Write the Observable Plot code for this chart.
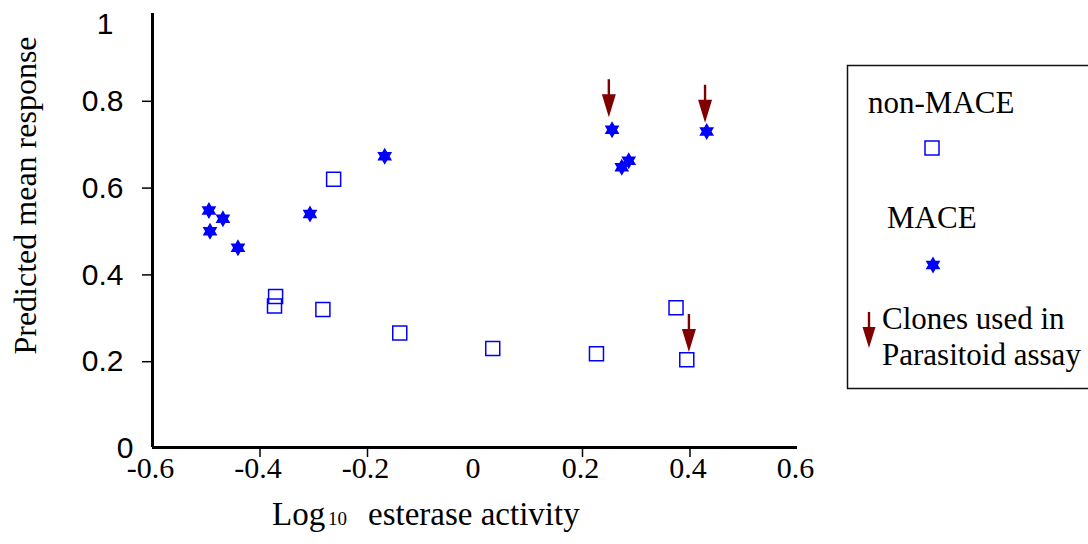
<!DOCTYPE html>
<html><head><meta charset="utf-8">
<script src="https://cdn.jsdelivr.net/npm/d3@7"></script>
<script src="https://cdn.jsdelivr.net/npm/@observablehq/plot@0.6"></script>
<style>body{margin:0;background:#fff}</style>
</head><body><div id="chart"></div>
<script>
// MACE clones (stars)
const maceX = [-0.495, -0.493, -0.469, -0.441, -0.307, -0.168, 0.255, 0.273, 0.286, 0.431];
const maceY = [0.546, 0.498, 0.527, 0.460, 0.538, 0.671, 0.732, 0.646, 0.661, 0.728];
// non-MACE clones (squares)
const nonX = [-0.371, -0.373, -0.283, -0.263, -0.140, 0.033, 0.226, 0.374, 0.394];
const nonY = [0.348, 0.326, 0.318, 0.618, 0.264, 0.228, 0.216, 0.322, 0.202];
// arrow tips: clones used in parasitoid assay
const arrowX = [0.249, 0.428, 0.398];
const arrowY = [0.761, 0.748, 0.220];
// ticks
const xTicks = [-0.6, -0.4, -0.2, 0, 0.2, 0.4, 0.6];
const xTickMarks = [-0.4, -0.2, 0.2, 0.4];
const yTicks = [0.2, 0.4, 0.6, 0.8];
const legendLabels = ["non-MACE", "MACE", "Clones used in", "Parasitoid assay"];
const yTitle = "Predicted mean response";
const xTitle = ["Log", "10", "esterase activity"];

const BLUE = "#0000ff", RED = "#800000";
const SERIF = "'Liberation Serif', 'Times New Roman', Times, serif";
const SANS = "'Liberation Sans', Arial, sans-serif";

const mace = maceX.map((x, i) => ({x, y: maceY[i]}));
const non = nonX.map((x, i) => ({x, y: nonY[i]}));
const arrows = arrowX.map((x, i) => ({x, y: arrowY[i]}));

const hexagram = {
  draw(ctx, size) {
    const R = Math.sqrt(size / Math.PI), r = R / Math.sqrt(3);
    for (let k = 0; k < 12; k++) {
      const a = -Math.PI / 2 + k * Math.PI / 6, rad = k % 2 ? r : R;
      const px = rad * Math.cos(a), py = rad * Math.sin(a);
      if (k) ctx.lineTo(px, py); else ctx.moveTo(px, py);
    }
    ctx.closePath();
  }
};
function arrowPath(ctx, l, h, w, s) {
  ctx.moveTo(-s, 0); ctx.lineTo(-s, -l + h); ctx.lineTo(-w, -l + h);
  ctx.lineTo(0, -l); ctx.lineTo(w, -l + h); ctx.lineTo(s, -l + h);
  ctx.lineTo(s, 0); ctx.closePath();
}
const arrowShape = { draw(ctx, l) { arrowPath(ctx, l, 23, 7, 1.2); } };

const chart = Plot.plot({
  width: 1088, height: 544,
  marginLeft: 152, marginRight: 291, marginTop: 13, marginBottom: 97,
  x: {domain: [-0.6, 0.6]},
  y: {domain: [0, 1]},
  style: {background: "white", color: "black"},
  marks: [
    Plot.axisY(yTicks, {tickSize: 10, tickPadding: 19, tickFormat: String, fontSize: 30, fontFamily: SANS, label: null, strokeWidth: 1.5, dy: 1}),
    Plot.axisY([1], {tickSize: 0, tickPadding: 39, tickFormat: String, fontSize: 30, fontFamily: SANS, label: null, dy: 11}),
    Plot.axisY([0], {tickSize: 0, tickPadding: 19, tickFormat: String, fontSize: 30, fontFamily: SANS, label: null, dy: 1}),
    Plot.axisX(xTickMarks, {tickSize: 10, tickFormat: () => "", label: null, strokeWidth: 1.5}),
    Plot.axisX(xTicks, {tickSize: 0, tickPadding: 9, tickFormat: String, fontSize: 30, fontFamily: SERIF, label: null, dx: -2}),
    Plot.ruleX([-0.6], {strokeWidth: 3}),
    Plot.ruleY([0], {strokeWidth: 3}),
    Plot.dot(non, {x: "x", y: "y", symbol: "square", r: 7.9, stroke: BLUE, fill: "none", strokeWidth: 1.5}),
    Plot.dot(mace, {x: "x", y: "y", symbol: hexagram, r: 8.5, fill: BLUE, stroke: "none"}),
    Plot.vector(arrows, {x: "x", y: "y", length: 38, rotate: 180, anchor: "end", shape: arrowShape, fill: RED, stroke: "none"}),
    Plot.text([yTitle], {frameAnchor: "left", textAnchor: "middle", rotate: -90, dx: -127, dy: -35, fontSize: 32, fontFamily: SERIF})
  ]
});
document.getElementById("chart").appendChild(chart);

const svg = d3.select(chart);
// x title with subscript
const xt = svg.append("g").style("font-family", SERIF).attr("fill", "black").attr("text-anchor", "start");
xt.append("text").attr("x", 272).attr("y", 525).style("font-size", "33px").text(xTitle[0]);
xt.append("text").attr("x", 328).attr("y", 525).style("font-size", "19px").text(xTitle[1]);
xt.append("text").attr("x", 368).attr("y", 525).style("font-size", "33px").text(xTitle[2]);

// legend
const lg = svg.append("g").style("font-family", SERIF).style("font-size", "31px").attr("fill", "black").attr("text-anchor", "start");
lg.append("rect").attr("x", 847.5).attr("y", 65.5).attr("width", 270).attr("height", 323)
  .attr("fill", "none").attr("stroke", "#111").attr("stroke-width", 1.5);
lg.append("text").attr("x", 868).attr("y", 113).text(legendLabels[0]);
lg.append("rect").attr("x", 925).attr("y", 141).attr("width", 14).attr("height", 14)
  .attr("fill", "none").attr("stroke", BLUE).attr("stroke-width", 1.5);
lg.append("text").attr("x", 887).attr("y", 228).text(legendLabels[1]);
lg.append("path").attr("transform", "translate(933,265)")
  .attr("d", d3.symbol().type(hexagram).size(Math.PI * 8.5 * 8.5)()).attr("fill", BLUE);
const ap = d3.path(); arrowPath(ap, 36, 21, 6.5, 1.2);
lg.append("path").attr("transform", "translate(869,348) rotate(180) translate(0,36)")
  .attr("d", ap.toString()).attr("fill", RED);
lg.append("text").attr("x", 882).attr("y", 329).text(legendLabels[2]);
lg.append("text").attr("x", 882).attr("y", 365).text(legendLabels[3]);
</script></body></html>
